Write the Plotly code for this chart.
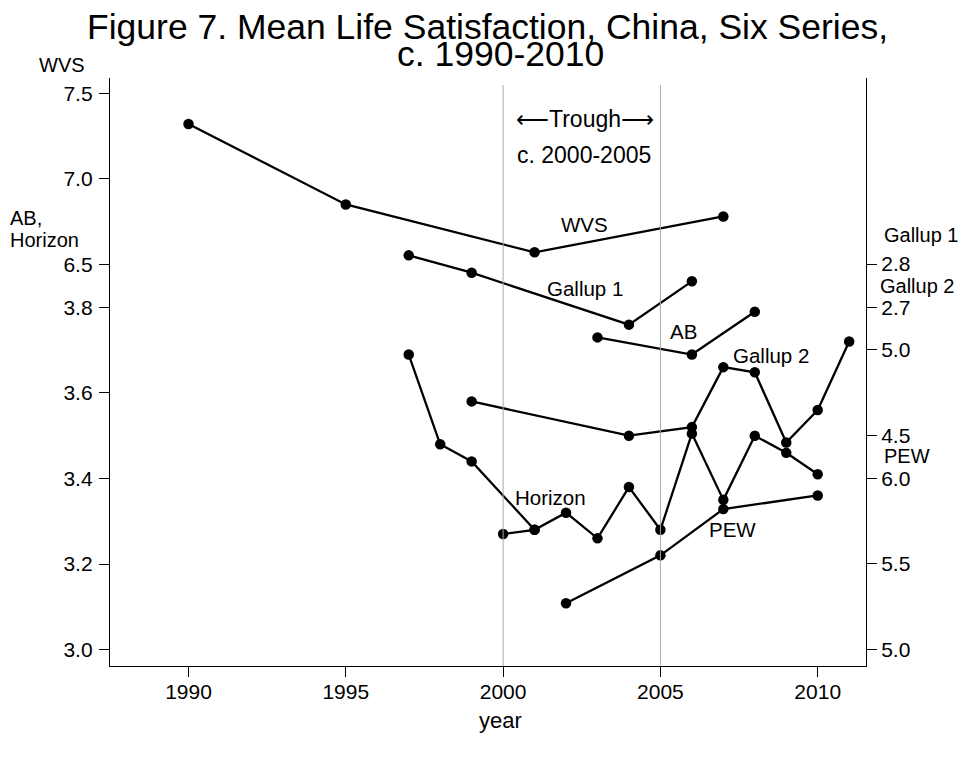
import plotly.graph_objects as go

# ---------------- data ----------------
wvs_years = [1990, 1995, 2001, 2007]
wvs_vals = [7.32, 6.85, 6.57, 6.78]

gallup1_years = [1997, 1999, 2004, 2006]
gallup1_vals = [2.82, 2.78, 2.66, 2.76]

gallup2_years = [1999, 2004, 2006, 2007, 2008, 2009, 2010, 2011]
gallup2_vals = [4.70, 4.50, 4.55, 4.90, 4.87, 4.46, 4.65, 5.05]

ab_years = [2003, 2006, 2008]
ab_vals = [3.73, 3.69, 3.79]

horizon_a_years = [1997, 1998, 1999, 2001]
horizon_a_vals = [3.69, 3.48, 3.44, 3.28]

horizon_b_years = [2000, 2001, 2002, 2003, 2004, 2005, 2006, 2007, 2008, 2009, 2010]
horizon_b_vals = [3.27, 3.28, 3.32, 3.26, 3.38, 3.28, 3.505, 3.35, 3.50, 3.46, 3.41]

pew_years = [2002, 2005, 2007, 2010]
pew_vals = [5.27, 5.55, 5.82, 5.90]

x_ticks = [1990, 1995, 2000, 2005, 2010]
ab_ticks = [3.0, 3.2, 3.4, 3.6, 3.8]
wvs_ticks = [6.5, 7.0, 7.5]
gallup1_ticks = [2.7, 2.8]
gallup2_ticks = [4.5, 5.0]
pew_ticks = [5.0, 5.5, 6.0]
trough_lines = [2000, 2005]

# ---------------- layout geometry ----------------
W, H = 974, 771
OFF = 8  # page body margin
L, R, T, B = 110, 866, 78, 666
FONT = "Liberation Sans, Arial, Helvetica, sans-serif"


def px(x):
    return (x - L) / (R - L)


def py(y):
    return (B - y) / (B - T)


fig = go.Figure()

line = dict(color="black", width=2.3)
marker = dict(color="black", size=10.5)

series = [
    (wvs_years, wvs_vals, "y2"),
    (gallup1_years, gallup1_vals, "y3"),
    (gallup2_years, gallup2_vals, "y4"),
    (ab_years, ab_vals, "y"),
    (horizon_a_years, horizon_a_vals, "y"),
    (horizon_b_years, horizon_b_vals, "y"),
    (pew_years, pew_vals, "y5"),
]
for xs, ys, ax in series:
    fig.add_trace(go.Scatter(x=xs, y=ys, yaxis=ax, mode="lines+markers",
                             line=line, marker=marker, showlegend=False,
                             hoverinfo="skip", cliponaxis=False))

for xv in trough_lines:
    fig.add_shape(type="line", xref="x", yref="paper", x0=xv, x1=xv,
                  y0=0, y1=py(85), line=dict(color="#a8a8a8", width=1))

tickfont = dict(family=FONT, size=21, color="black")
common_y = dict(showgrid=False, zeroline=False, ticks="outside", ticklen=10,
                tickwidth=1.3, tickcolor="black", tickformat=".1f",
                tickfont=tickfont, automargin=False, fixedrange=True,
                linecolor="black", linewidth=1.3)

fig.update_layout(
    width=W, height=H,
    margin=dict(l=L - OFF, r=W - R + OFF, t=T - OFF, b=H - B + OFF, pad=0),
    paper_bgcolor="white", plot_bgcolor="white",
    font=dict(family=FONT, color="black"),
    hovermode=False,
    xaxis=dict(range=[1987.505, 2011.535], tickvals=x_ticks, ticks="outside",
               ticklen=10, tickwidth=1.3, tickcolor="black", showline=True,
               linecolor="black", linewidth=1.3, showgrid=False, zeroline=False,
               tickfont=tickfont, automargin=False, fixedrange=True,
               ticklabelstandoff=-3),
    yaxis=dict(range=[2.9614, 4.3368], tickvals=ab_ticks, side="left",
               showline=True, ticklabelstandoff=2, **common_y),
    yaxis2=dict(range=[4.1509, 7.5895], tickvals=wvs_ticks, side="left",
                overlaying="y", anchor="x", showline=True,
                ticklabelstandoff=2, **common_y),
    yaxis3=dict(range=[1.8716, 3.2296], tickvals=gallup1_ticks, side="right",
                overlaying="y", anchor="x", showline=True,
                ticklabelstandoff=0, **common_y),
    yaxis4=dict(range=[3.1563, 6.5869], tickvals=gallup2_ticks, side="right",
                overlaying="y", anchor="x", showline=False,
                ticklabelstandoff=0, **common_y),
    yaxis5=dict(range=[4.9036, 8.3382], tickvals=pew_ticks, side="right",
                overlaying="y", anchor="x", showline=False,
                ticklabelstandoff=0, **common_y),
)


def ann(text, x, y, size=20, xanchor="center"):
    fig.add_annotation(text=text, x=px(x), y=py(y), xref="paper", yref="paper",
                       xanchor=xanchor, yanchor="middle", showarrow=False,
                       font=dict(family=FONT, size=size, color="black"))


# title
ann("Figure 7. Mean Life Satisfaction, China, Six Series,", 487, 27, size=35.5)
ann("c. 1990-2010", 500, 54, size=35.5)

# axis titles
ann("WVS", 62, 65, size=20)
ann("AB,", 8, 218, size=20, xanchor="left")
ann("Horizon", 8, 240, size=20, xanchor="left")
ann("Gallup 1", 882, 235, size=20, xanchor="left")
ann("Gallup 2", 878, 286, size=20, xanchor="left")
ann("PEW", 882, 456, size=20, xanchor="left")
ann("year", 500, 720, size=22)

# in-plot labels
ann("⟵Trough⟶", 585, 119, size=23)
ann("c. 2000-2005", 584, 155, size=23)
ann("WVS", 584, 224, size=20.5)
ann("Gallup 1", 585, 288, size=20.5)
ann("AB", 683, 331, size=20.5)
ann("Gallup 2", 771, 355, size=20.5)
ann("Horizon", 550, 497, size=20.5)
ann("PEW", 732, 529, size=20.5)

fig.write_html("out.html")
